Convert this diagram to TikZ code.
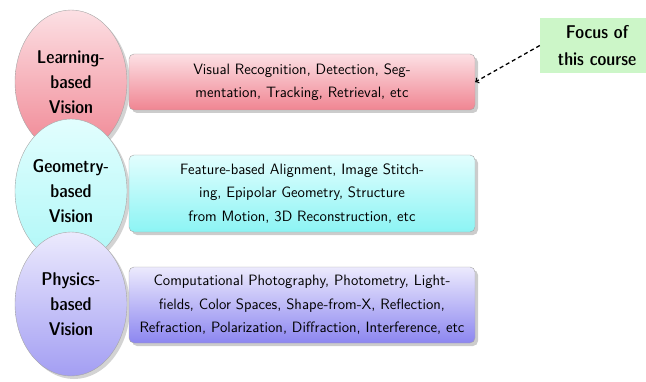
\documentclass[tikz,border=0pt]{standalone}
\usepackage{fontspec}
\newfontfamily\demicond{Latin Modern Sans Demi Cond}
\usepackage{tikz}
\usetikzlibrary{shapes.geometric,shadows}

\definecolor{redtop}{HTML}{FCE0E4}
\definecolor{redbot}{HTML}{F08592}
\definecolor{cyantop}{HTML}{E2FEFE}
\definecolor{cyanbot}{HTML}{8CF4F4}
\definecolor{purptop}{HTML}{ECEAFD}
\definecolor{purpbot}{HTML}{8C86F0}
\definecolor{focusgreen}{HTML}{CCF6C8}

\begin{document}
\begin{tikzpicture}[x=1pt,y=1pt]
              \tikzstyle{every node}+=[inner sep=0pt]
              \tikzstyle{vision}=[ellipse,draw=gray!70,minimum width=112pt,minimum height=144pt,
                drop shadow={opacity=0.35,shadow xshift=3pt,shadow yshift=-3pt},
                align=center,font=\demicond\fontsize{18.5}{25}\selectfont]
              \tikzstyle{topics}=[rectangle,rounded corners=5pt,draw=gray!70,minimum width=346pt,
                drop shadow={opacity=0.4,shadow xshift=3pt,shadow yshift=-3pt},
                align=center,font=\sffamily\fontsize{15}{23.5}\selectfont]
              \useasboundingbox (0,0) rectangle (646,381);
              % learning-based row
              \node [vision,top color=redtop,bottom color=redbot] (learn) at (71,299) {Learning-\\based\\Vision};
              \node [topics,minimum height=56pt,top color=redtop,bottom color=redbot] (learnbox) at (302,299)
                {Visual Recognition, Detection, Seg-\\mentation, Tracking, Retrieval, etc};
              % geometry-based row
              \node [vision,top color=cyantop,bottom color=cyanbot!70] (geom) at (71,190) {Geometry-\\based\\Vision};
              \node [topics,minimum height=77pt,top color=cyantop,bottom color=cyanbot] (geombox) at (302,187.5)
                {Feature-based Alignment, Image Stitch-\\ing, Epipolar Geometry, Structure\\from Motion, 3D Reconstruction, etc};
              % physics-based row
              \node [vision,top color=purptop,bottom color=purpbot!80] (phys) at (71,77) {Physics-\\based\\Vision};
              \node [topics,minimum height=76pt,top color=purptop,bottom color=purpbot] (physbox) at (302,76)
                {Computational Photography, Photometry, Light-\\fields, Color Spaces, Shape-from-X, Reflection,\\Refraction, Polarization, Diffraction, Interference, etc};
              % note on the right, runs past the page edge
              \node [fill=focusgreen,minimum width=114pt,minimum height=55pt,align=center,
                font=\demicond\fontsize{18.5}{27}\selectfont] (focus) at (597,335.5) {Focus of\\this course};
              \draw [black,line width=1.3pt,dash pattern=on 4pt off 3pt,->] (focus.west) -- (learnbox.east);
            \end{tikzpicture}
\end{document}
